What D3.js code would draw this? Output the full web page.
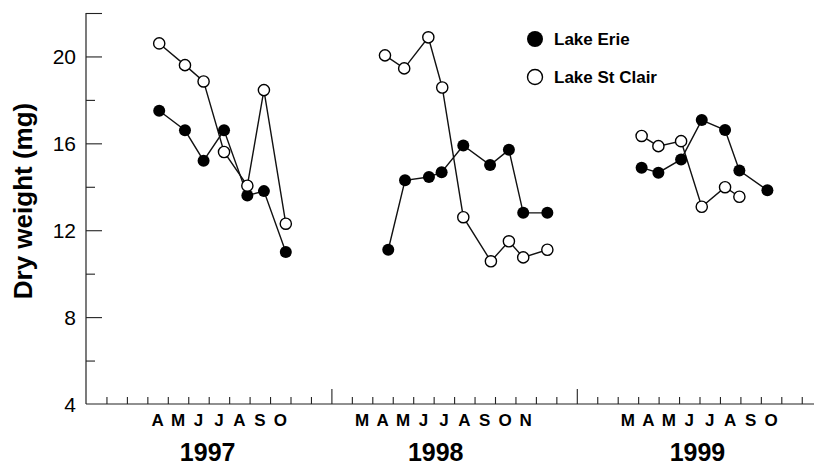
<!DOCTYPE html>
<html>
<head>
	<title>dry weight</title>
	<script src="https://cdn.jsdelivr.net/npm/d3@7"></script>
</head>
<style type="text/css">
	body { margin: 0; background-color: #fff; }
	text { font-family: "Liberation Sans", Arial, sans-serif; }
</style>
<body>
</body>
</html>
<script type="text/javascript">
	var width = 814;
	var height = 468;

	// months counted from Jan 1997 (0 = start of Jan 1997)
	var erie1997Month = [3.58, 4.84, 5.75, 6.75, 7.89, 8.70, 9.77];
	var erie1997 = [17.5, 16.6, 15.2, 16.6, 13.6, 13.8, 11.0];
	var clair1997Month = [3.58, 4.84, 5.75, 6.75, 7.89, 8.70, 9.77];
	var clair1997 = [20.6, 19.6, 18.85, 15.6, 14.05, 18.45, 12.3];

	var erie1998Month = [14.78, 15.60, 16.77, 17.39, 18.45, 19.76, 20.68, 21.38, 22.56];
	var erie1998 = [11.1, 14.3, 14.45, 14.67, 15.9, 15.0, 15.7, 12.8, 12.8];
	var clair1998Month = [14.62, 15.56, 16.74, 17.42, 18.45, 19.80, 20.68, 21.38, 22.56];
	var clair1998 = [20.05, 19.45, 20.88, 18.57, 12.6, 10.57, 11.49, 10.75, 11.1];

	var erie1999Month = [27.17, 27.99, 29.1, 30.11, 31.25, 31.95, 33.32];
	var erie1999 = [14.88, 14.65, 15.26, 17.07, 16.61, 14.75, 13.84];
	var clair1999Month = [27.17, 27.99, 29.1, 30.11, 31.25, 31.95];
	var clair1999 = [16.34, 15.87, 16.1, 13.08, 13.98, 13.54];

	var years = ["1997", "1998", "1999"];
	var monthLabels1997 = ["A", "M", "J", "J", "A", "S", "O"];
	var monthLabels1998 = ["M", "A", "M", "J", "J", "A", "S", "O", "N"];
	var monthLabels1999 = ["M", "A", "M", "J", "J", "A", "S", "O"];
	var monthLabelStart = [3, 13, 26]; // first labelled month slot of each year
	var yTickLabels = [4, 8, 12, 16, 20];
	var yMinorTicks = [6, 10, 14, 18];
	var yExtraTicks = [22];
	var seriesNames = ["Lake Erie", "Lake St Clair"];

	var x = d3.scaleLinear().domain([0, 36]).range([86, 86 + 36 * 20.45]);
	var y = d3.scaleLinear().domain([4, 22]).range([404, 13]);

	var svg = d3.select("body").append("svg").attr("width", width).attr("height", height);

	// y axis
	var yAxis = d3.axisRight(y).tickValues(yTickLabels.slice(1).concat(yExtraTicks)).tickSize(16).tickFormat("");
	var gy = svg.append("g").attr("transform", "translate(" + x(0) + ",0)").call(yAxis);
	gy.select(".domain").attr("d", "M0," + y(22) + "V" + y(4)).attr("stroke", "#222").attr("stroke-width", 1.2);
	gy.selectAll(".tick line").attr("stroke", "#222").attr("stroke-width", 1.1);
	var gyMinor = svg.append("g").attr("transform", "translate(" + x(0) + ",0)")
		.call(d3.axisRight(y).tickValues(yMinorTicks).tickSize(9).tickFormat(""));
	gyMinor.select(".domain").remove();
	gyMinor.selectAll(".tick line").attr("stroke", "#222").attr("stroke-width", 1.1);

	svg.selectAll(".ylab").data(yTickLabels).enter().append("text")
		.attr("class", "ylab")
		.attr("x", x(0) - 10)
		.attr("y", function(d){ return y(d); })
		.attr("dy", "0.36em")
		.attr("text-anchor", "end")
		.attr("font-size", 21)
		.text(function(d){ return d; });

	svg.append("text")
		.attr("transform", "translate(32," + 201 + ") rotate(-90)")
		.attr("text-anchor", "middle")
		.attr("font-size", 26)
		.attr("font-weight", "bold")
		.text("Dry weight (mg)");

	// x axis
	var monthTicks = d3.range(1, 36).filter(function(m){ return m % 12 != 0; });
	var gx = svg.append("g").attr("transform", "translate(0," + y(4) + ")")
		.call(d3.axisTop(x).tickValues(monthTicks).tickSize(7).tickFormat(""));
	gx.select(".domain").attr("d", "M" + x(0) + ",0H" + width).attr("stroke", "#222").attr("stroke-width", 1.2);
	gx.selectAll(".tick line").attr("stroke", "#222").attr("stroke-width", 1.1);
	var gxYear = svg.append("g").attr("transform", "translate(0," + y(4) + ")")
		.call(d3.axisTop(x).tickValues([12, 24]).tickSize(15).tickFormat(""));
	gxYear.select(".domain").remove();
	gxYear.selectAll(".tick line").attr("stroke", "#222").attr("stroke-width", 1.1);

	var allMonthLabels = [monthLabels1997, monthLabels1998, monthLabels1999];
	allMonthLabels.forEach(function(labels, k) {
		svg.append("g").selectAll("text").data(labels).enter().append("text")
			.attr("x", function(d, i){ return x(monthLabelStart[k] + i + 0.5); })
			.attr("y", 426)
			.attr("text-anchor", "middle")
			.attr("font-size", 17)
			.attr("font-weight", "bold")
			.text(function(d){ return d; });
	});

	var yearCenter = [5.95, 17.1, 29.9];
	svg.selectAll(".year").data(years).enter().append("text")
		.attr("class", "year")
		.attr("x", function(d, i){ return x(yearCenter[i]); })
		.attr("y", 461)
		.attr("text-anchor", "middle")
		.attr("font-size", 25)
		.attr("font-weight", "bold")
		.text(function(d){ return d; });

	// series
	function pts(ms, vs) {
		return ms.map(function(m, i){ return {m: m, v: vs[i]}; });
	}
	var erie = [pts(erie1997Month, erie1997), pts(erie1998Month, erie1998), pts(erie1999Month, erie1999)];
	var clair = [pts(clair1997Month, clair1997), pts(clair1998Month, clair1998), pts(clair1999Month, clair1999)];

	var line = d3.line().x(function(d){ return x(d.m); }).y(function(d){ return y(d.v); });

	svg.append("g").selectAll("path").data(erie.concat(clair)).enter().append("path")
		.attr("d", line)
		.attr("fill", "none")
		.attr("stroke", "#111")
		.attr("stroke-width", 1.4);

	erie.forEach(function(s) {
		svg.append("g").selectAll("circle").data(s).enter().append("circle")
			.attr("cx", function(d){ return x(d.m); })
			.attr("cy", function(d){ return y(d.v); })
			.attr("r", 6)
			.attr("fill", "#000");
	});
	clair.forEach(function(s) {
		svg.append("g").selectAll("circle").data(s).enter().append("circle")
			.attr("cx", function(d){ return x(d.m); })
			.attr("cy", function(d){ return y(d.v); })
			.attr("r", 5.6)
			.attr("fill", "#fff")
			.attr("stroke", "#000")
			.attr("stroke-width", 1.4);
	});

	// legend
	var legend = svg.append("g").selectAll("g").data(seriesNames).enter().append("g")
		.attr("transform", function(d, i){ return "translate(535," + (39 + i * 38) + ")"; });
	legend.append("circle")
		.attr("r", function(d, i){ return i == 0 ? 8 : 7.5; })
		.attr("fill", function(d, i){ return i == 0 ? "#000" : "#fff"; })
		.attr("stroke", "#000")
		.attr("stroke-width", function(d, i){ return i == 0 ? 0 : 1.4; });
	legend.append("text")
		.attr("x", 19)
		.attr("dy", "0.36em")
		.attr("font-size", 17)
		.attr("font-weight", "bold")
		.text(function(d){ return d; });
</script>
